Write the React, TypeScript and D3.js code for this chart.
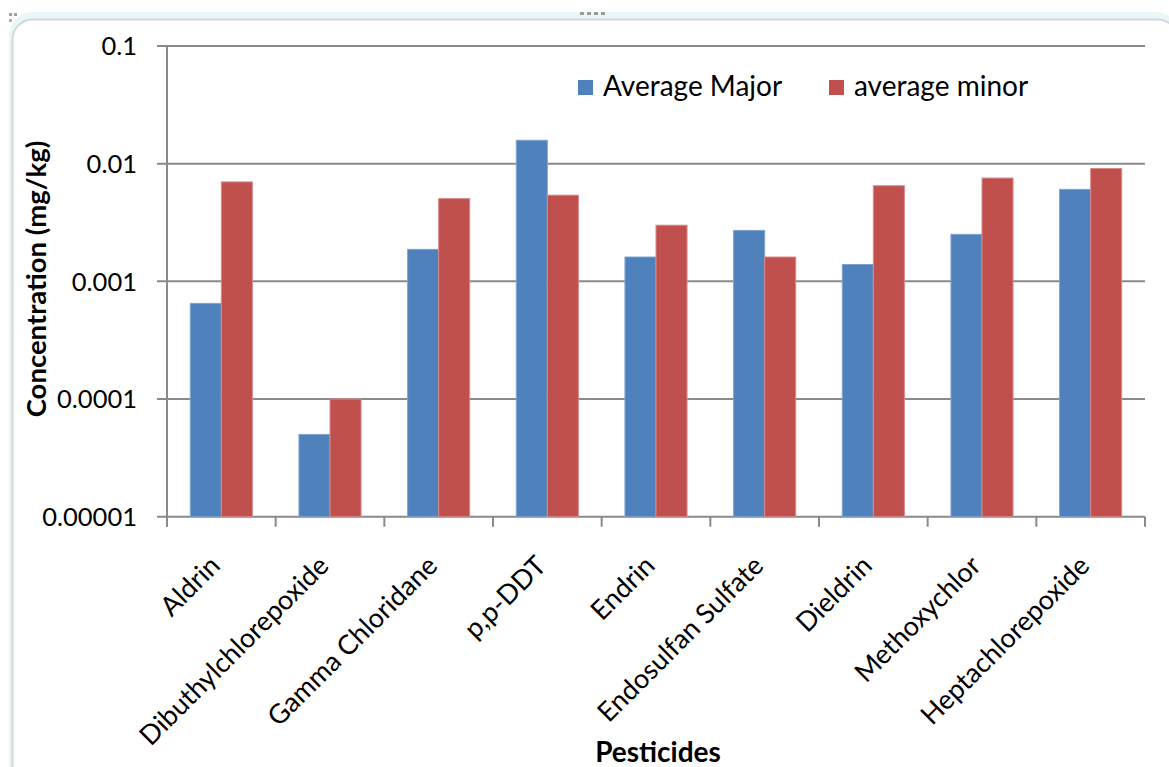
import React from "react";
import * as d3 from "d3";

const categories = [
  "Aldrin",
  "Dibuthylchlorepoxide",
  "Gamma Chloridane",
  "p,p-DDT",
  "Endrin",
  "Endosulfan Sulfate",
  "Dieldrin",
  "Methoxychlor",
  "Heptachlorepoxide",
];
const seriesNames = ["Average Major", "average minor"];
const averageMajor = [0.00065, 0.00005, 0.00187, 0.0158, 0.00161, 0.00271, 0.00139, 0.00251, 0.00605];
const averageMinor = [0.007, 0.0001, 0.00505, 0.0054, 0.003, 0.00161, 0.0065, 0.00755, 0.0091];
const yTicks = [0.1, 0.01, 0.001, 0.0001, 0.00001];
const yTickLabels = ["0.1", "0.01", "0.001", "0.0001", "0.00001"];

const W = 1169;
const H = 767;
const left = 167;
const right = 1145;
const top = 46;
const bottom = 516.7;
const colors = ["#4F81BD", "#C0504D"];
const strokes = ["#7fa3d0", "#d98a88"];
const font = "Lato, 'Open Sans', sans-serif";

export default function App() {
  const x = d3.scaleBand<string>().domain(categories).range([left, right]).padding(0);
  const bw = x.bandwidth();
  const inner = d3
    .scaleBand<string>()
    .domain(seriesNames)
    .range([(bw * 0.75) / 3.5, bw - (bw * 0.75) / 3.5])
    .padding(0);
  const y = d3.scaleLog().domain([0.00001, 0.1]).range([bottom, top]);
  const series = [averageMajor, averageMinor];
  const boundaries = categories.map((c) => x(c) as number).concat([right]);

  return (
    <svg
      width={W}
      height={H}
      style={{ position: "absolute", left: 0, top: 0, background: "#ffffff" }}
      fontFamily={font}
    >
      <rect x={9} y={12} width={1170} height={820} rx={24} fill="#e9f7f8" />
      <rect x={12.5} y={19.5} width={1165} height={800} rx={20} fill="#ffffff" stroke="#d3d9da" strokeWidth={2} />
      {[0, 1, 2, 3].map((i) => (
        <rect key={"d" + i} x={580 + i * 7} y={12} width={4} height={3} fill="#9a9a9a" />
      ))}
      <rect x={9} y={13} width={3} height={3} fill="#a0a0a0" />
      <rect x={14} y={13} width={3} height={3} fill="#a0a0a0" />
      <rect x={9} y={19} width={3} height={3} fill="#b0b0b0" />

      {/* gridlines */}
      {yTicks.map((t) => (
        <line key={"g" + t} x1={left - 10} x2={right} y1={y(t)} y2={y(t)} stroke="#8a8a8a" strokeWidth={2} />
      ))}
      {/* y axis */}
      <line x1={left} x2={left} y1={top} y2={bottom + 10} stroke="#8a8a8a" strokeWidth={2} />
      {boundaries.map((b, i) => (
        <line key={"t" + i} x1={b} x2={b} y1={bottom} y2={bottom + 10} stroke="#8a8a8a" strokeWidth={2} />
      ))}

      {/* bars */}
      {categories.map((c, i) => (
        <g key={c}>
          {series.map((s, j) => {
            const bx = (x(c) as number) + (inner(seriesNames[j]) as number);
            const by = y(s[i]);
            return (
              <rect
                key={j}
                x={bx}
                y={by}
                width={inner.bandwidth()}
                height={bottom - by}
                fill={colors[j]}
                stroke={strokes[j]}
                strokeWidth={1}
              />
            );
          })}
        </g>
      ))}

      {/* y tick labels */}
      {yTicks.map((t, i) => (
        <text key={"yl" + t} x={137} y={y(t)} dy="0.36em" textAnchor="end" fontSize={25.5} fill="#000">
          {yTickLabels[i]}
        </text>
      ))}

      {/* x tick labels */}
      {categories.map((c) => {
        const cx = (x(c) as number) + bw / 2;
        return (
          <text
            key={"xl" + c}
            transform={`translate(${cx - 13},${554}) rotate(-45)`}
            textAnchor="end"
            dy="0.7em"
            fontSize={27}
            fill="#000"
          >
            {c}
          </text>
        );
      })}

      {/* axis titles */}
      <text
        transform={`translate(${36},${279}) rotate(-90)`}
        textAnchor="middle"
        dy="0.35em"
        fontSize={27.5}
        fontWeight="bold"
        fill="#000"
      >
        Concentration (mg/kg)
      </text>
      <text x={658} y={762} textAnchor="middle" fontSize={28} fontWeight="bold" fill="#000">
        Pesticides
      </text>

      {/* legend */}
      {seriesNames.map((n, i) => {
        const lx = i === 0 ? 578 : 829;
        return (
          <g key={"lg" + n}>
            <rect x={lx} y={80} width={15} height={15} fill={colors[i]} />
            <text x={lx + 25} y={96} fontSize={28} fill="#000">
              {n}
            </text>
          </g>
        );
      })}
    </svg>
  );
}
